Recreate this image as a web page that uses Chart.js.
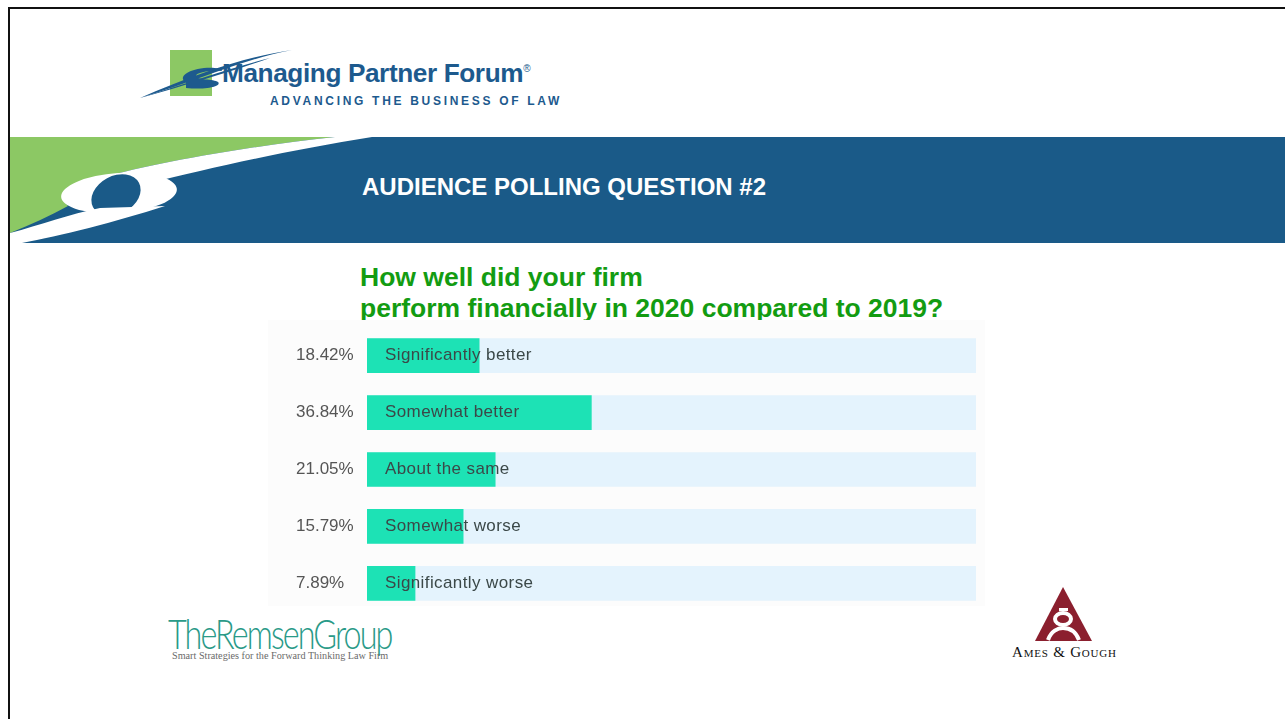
<!DOCTYPE html>
<html>
<head>
<meta charset="utf-8">
<title>Audience Polling Question #2</title>
<script src="https://cdn.jsdelivr.net/npm/chart.js@4"></script>
<style>
    html, body { margin: 0; padding: 0; background: #fff; }
    body { width: 1285px; height: 719px; position: relative; overflow: hidden; font-family: "Liberation Sans", Arial, sans-serif; }
    .abs { position: absolute; white-space: nowrap; }
    #frame-top { left: 8px; top: 7px; width: 1277px; height: 2px; background: #111; }
    #frame-left { left: 8px; top: 7px; width: 2px; height: 712px; background: #111; }
    #mpf-name { left: 222px; top: 58px; font-size: 26.2px; font-weight: bold; color: #1d5a8e; letter-spacing: -0.4px; }
    #mpf-name sup { font-size: 10px; font-weight: normal; vertical-align: 10px; }
    #mpf-tag { left: 270px; top: 94px; font-size: 12px; font-weight: bold; color: #1d5a8e; letter-spacing: 2.7px; }
    #banner-title { left: 362px; top: 173px; font-size: 24px; font-weight: bold; color: #fff; }
    #question { left: 360px; top: 262px; font-size: 26.5px; font-weight: bold; color: #139c12; line-height: 31px; z-index: 1; }
    #panel { left: 268px; top: 320px; width: 717px; height: 286px; background: #fcfcfc; z-index: 2; }
    #chart-box { left: 280px; top: 307px; width: 700px; height: 325px; z-index: 3; }
    #remsen { left: 168px; top: 612px; font-family: Lato, "Open Sans", sans-serif; font-weight: 300; font-size: 41px; color: #2a9a88; letter-spacing: -2.4px; line-height: 44px; transform: scaleX(0.79); transform-origin: left top; }
    #remsen-tag { left: 172px; top: 650px; font-family: "Liberation Serif", serif; font-size: 10.2px; color: #6a6a6a; }
    #ames { left: 1012px; top: 644px; font-family: "Liberation Serif", serif; font-size: 15px; color: #111; font-variant: small-caps; letter-spacing: 0.8px; }
</style>
</head>
<body>
<div id="frame-top" class="abs"></div>
<div id="frame-left" class="abs"></div>

<!-- Managing Partner Forum mark -->
<svg class="abs" style="left:0;top:0" width="400" height="130">
    <rect x="170" y="50" width="42" height="46" fill="#8cc864"/>
    <path d="M140,98 C200,80 240,60 292,50 C250,56 200,72 140,98 Z" fill="#1d5a8e"/>
    <path d="M140,98 C190,84 235,70 270,58 C230,68 190,82 140,98 Z" fill="#1d5a8e"/>
    <path d="M186,82 C178,78 186,70 204,68 C212,67 222,68 222,71 C212,70 196,72 196,76 C196,80 214,79 218,82 C222,86 208,90 186,88 Z" fill="#1d5a8e"/>
</svg>
<div id="mpf-name" class="abs">Managing Partner Forum<sup>®</sup></div>
<div id="mpf-tag" class="abs">ADVANCING THE BUSINESS OF LAW</div>

<!-- banner with the green wedge and white swoosh -->
<svg class="abs" style="left:0;top:0" width="1285" height="250">
    <rect x="10" y="137" width="1275" height="106" fill="#1a5a88"/>
    <path d="M10,137 L335,137 C250,146 160,162 100,178 C70,186 58,196 68,206 C50,216 30,225 10,233 Z" fill="#8cc864"/>
    <path d="M335,137 L372,137 C290,150 210,168 150,183 L100,178 C160,162 250,146 335,137 Z" fill="#fff"/>
    <ellipse cx="119" cy="193" rx="58" ry="20" transform="rotate(-4 119 193)" fill="#fff"/>
    <ellipse cx="116" cy="195" rx="26" ry="19" transform="rotate(-28 116 195)" fill="#1a5a88"/>
    <path d="M10,233 C40,225 70,214 100,208 L165,206 C115,222 60,236 22,243 L10,243 Z" fill="#fff"/>
</svg>
<div id="banner-title" class="abs">AUDIENCE POLLING QUESTION #2</div>

<div id="question" class="abs">How well did your firm<br>perform financially in 2020 compared to 2019?</div>

<div id="panel" class="abs"></div>
<div id="chart-box" class="abs"><canvas id="poll"></canvas></div>

<!-- sponsor marks -->
<div id="remsen" class="abs">TheRemsenGroup</div>
<div id="remsen-tag" class="abs">Smart Strategies for the Forward Thinking Law Firm</div>

<svg class="abs" style="left:1000px;top:580px" width="130" height="70">
    <polygon points="63,7 35,61 92,61" fill="#8b1f2e"/>
    <ellipse cx="63" cy="39" rx="8" ry="6" fill="none" stroke="#fff" stroke-width="4"/>
    <path d="M48,60 C51,51 58,48 63,48 C70,48 76,52 79,60" fill="none" stroke="#fff" stroke-width="4"/>
    <rect x="59" y="28" width="9" height="3" fill="#fff"/>
</svg>
<div id="ames" class="abs">Ames &amp; Gough</div>

<script>
    const answers = ['Significantly better', 'Somewhat better', 'About the same', 'Somewhat worse', 'Significantly worse'];
    const shares = [18.42, 36.84, 21.05, 15.79, 7.89];
    const trackMax = [100, 100, 100, 100, 100];

    // writes each answer inside its bar, from the x scale
    const answerText = {
        id: 'answerText',
        afterDatasetsDraw(chart) {
            const ctx = chart.ctx;
            const x = chart.scales.x;
            const y = chart.scales.y;
            ctx.save();
            ctx.font = '17px "Liberation Sans", Arial, sans-serif';
            ctx.letterSpacing = '0.4px';
            ctx.fillStyle = '#3b4848';
            ctx.textBaseline = 'middle';
            answers.forEach((a, i) => {
                ctx.fillText(a, x.getPixelForValue(0) + 18, y.getPixelForValue(i));
            });
            ctx.restore();
        }
    };

    new Chart(document.getElementById('poll'), {
        type: 'bar',
        data: {
            labels: answers,
            datasets: [
                {
                    label: 'Share',
                    data: shares,
                    backgroundColor: '#1de2b5',
                    barThickness: 34,
                    grouped: false,
                    order: 0
                },
                {
                    label: 'Track',
                    data: trackMax,
                    backgroundColor: '#e4f3fd',
                    barThickness: 34,
                    grouped: false,
                    order: 1
                }
            ]
        },
        options: {
            indexAxis: 'y',
            responsive: true,
            maintainAspectRatio: false,
            animation: false,
            layout: { padding: { left: 16, right: 4, top: 0, bottom: 0 } },
            plugins: { legend: { display: false }, tooltip: { enabled: false } },
            scales: {
                x: { display: false, min: 0, max: 100 },
                y: {
                    grid: { display: false, drawTicks: false },
                    border: { display: false },
                    afterFit(scale) { scale.width = 71; },
                    ticks: {
                        padding: 10,
                        crossAlign: 'far',
                        color: '#555',
                        font: { size: 17, family: '"Liberation Sans", Arial, sans-serif' },
                        callback: (v, i) => shares[i].toFixed(2) + '%'
                    }
                }
            }
        },
        plugins: [answerText]
    });
</script>
</body>
</html>
